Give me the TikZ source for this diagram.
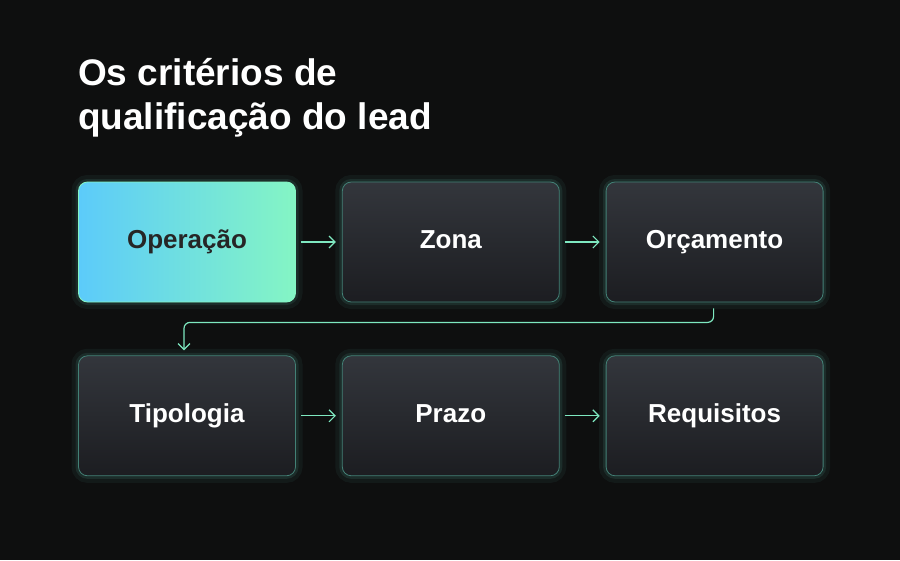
\documentclass[tikz,border=0pt]{standalone}
\usepackage{fontspec}
\setmainfont{Liberation Sans}
\usetikzlibrary{arrows.meta,positioning}
\definecolor{bg}{HTML}{0E0F0F}
\definecolor{edge}{HTML}{5FB8A8}
\definecolor{arrowc}{HTML}{7EE8C0}
\definecolor{cardtop}{HTML}{33363C}
\definecolor{cardbot}{HTML}{1C1D21}
\definecolor{leadl}{HTML}{5CCBFA}
\definecolor{leadr}{HTML}{84F5C4}
\tikzset{
  glow/.style = {preaction={draw=edge, line width=14pt, opacity=0.07},
    preaction={draw=edge, line width=6pt, opacity=0.12}},
  card/.style = {glow, rectangle, rounded corners=9pt, draw=edge!70!black,
    line width=0.8pt, minimum width=217pt, minimum height=120pt,
    top color=cardtop, bottom color=cardbot, text=white,
    text height=18pt, text depth=5pt,
    font=\fontsize{26}{30}\selectfont\bfseries},
  leadcard/.style = {card, left color=leadl, right color=leadr,
    draw=leadr, text=black!85},
  flow/.style = {-{Straight Barb[length=6pt,width=12pt]}, draw=arrowc, line width=1.2pt}
}
\begin{document}
\begin{tikzpicture}[x=1pt,y=-1pt]
\fill[bg] (0,0) rectangle (900,560);
\node[anchor=north west, text=white, align=left, inner sep=0pt,
  font=\fontsize{37}{44}\selectfont\bfseries] (title) at (78,58)
  {Os critérios de\\qualificação do lead};
% first row
\node[leadcard] (op) at (187,242) {Operação};
\node[card, right=46pt of op] (zona) {Zona};
\node[card, right=46pt of zona] (orc) {Orçamento};
% second row
\node[card, below=53pt of op] (tipo) {Tipologia};
\node[card, right=46pt of tipo] (prazo) {Prazo};
\node[card, right=46pt of prazo] (req) {Requisitos};
% connectors
\draw[flow] ([xshift=5pt]op.east) -- ([xshift=-6pt]zona.west);
\draw[flow] ([xshift=5pt]zona.east) -- ([xshift=-6pt]orc.west);
\draw[flow] ([xshift=5pt]tipo.east) -- ([xshift=-6pt]prazo.west);
\draw[flow] ([xshift=5pt]prazo.east) -- ([xshift=-6pt]req.west);
\draw[flow, rounded corners=6pt] ([xshift=-1pt,yshift=-6pt]orc.south)
  -- ++(0,14) -| ([xshift=-3pt,yshift=5pt]tipo.north);
\end{tikzpicture}
\end{document}
